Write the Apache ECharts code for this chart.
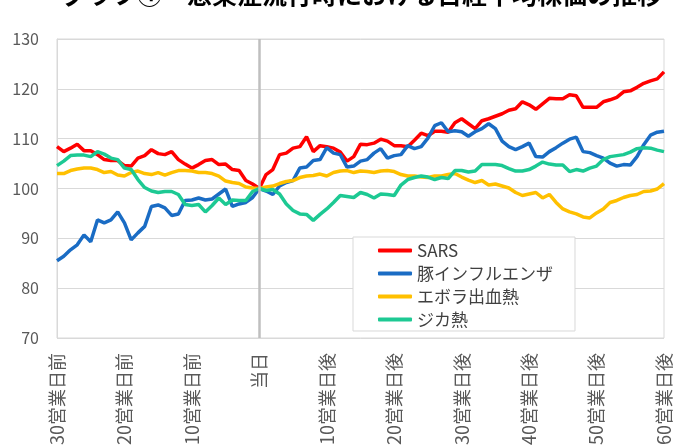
<!DOCTYPE html>
<html>
<head>
<meta charset="utf-8">
<script src="https://cdn.jsdelivr.net/npm/echarts@6/dist/echarts.min.js"></script>
<style>
  html, body { margin: 0; padding: 0; background: #fff; }
  #chart { width: 673px; height: 448px; }
</style>
</head>
<body>
<div id="chart"></div>
<script>
// business days relative to the event day (-30 .. +60)
const dayOffsets = []
for (let d = -30; d <= 60; d++) dayOffsets.push(d)
const categories = dayOffsets.map((d) => (d < 0 ? `${-d}営業日前` : d === 0 ? '当日' : `${d}営業日後`))

const seriesNames = ['SARS', '豚インフルエンザ', 'エボラ出血熱', 'ジカ熱']

const sars = [
  108.4, 107.4, 108.1, 108.9, 107.6, 107.6, 106.8, 105.8, 105.6, 105.6,
  104.6, 104.5, 106.1, 106.6, 107.8, 107.0, 106.8, 107.4, 105.8, 104.9,
  104.1, 104.8, 105.6, 105.8, 104.8, 104.9, 103.8, 103.6, 101.6, 100.9,
  100.0,
  102.8, 103.8, 106.8, 107.1, 108.1, 108.4, 110.4, 107.4, 108.6, 108.4,
  108.1, 107.3, 105.5, 106.4, 108.9, 108.8, 109.1, 109.9, 109.5, 108.6,
  108.6, 108.4, 109.7, 111.1, 110.6, 111.5, 111.5, 111.3, 113.2, 114.0,
  113.0, 112.0, 113.6, 114.0, 114.5, 115.0, 115.7, 116.0, 117.4, 116.8,
  115.9, 117.0, 118.1, 118.0, 118.0, 118.8, 118.6, 116.3, 116.3, 116.3,
  117.4, 117.8, 118.3, 119.4, 119.6, 120.3, 121.1, 121.6, 122.0, 123.4
]

const swineFlu = [
  85.5, 86.4, 87.7, 88.7, 90.7, 89.3, 93.7, 93.1, 93.7, 95.3,
  93.1, 89.7, 91.1, 92.4, 96.4, 96.7, 96.1, 94.6, 94.9, 97.6,
  97.7, 98.1, 97.7, 97.9, 98.9, 99.9, 96.4, 96.9, 97.2, 98.2,
  100.0,
  99.5, 98.8, 100.5, 101.2, 101.6, 104.1, 104.3, 105.6, 105.8, 108.2,
  107.1, 106.8, 104.3, 104.5, 105.5, 105.8, 107.1, 108.0, 106.1, 106.6,
  106.8, 108.6, 108.0, 108.4, 110.1, 112.6, 113.2, 111.4, 111.6, 111.4,
  110.5, 111.4, 112.0, 113.0, 112.0, 109.5, 108.4, 107.8, 108.4, 109.1,
  106.4, 106.3, 107.4, 108.2, 109.1, 109.9, 110.3, 107.4, 107.2, 106.6,
  106.1, 105.1, 104.5, 104.8, 104.7, 106.4, 108.8, 110.7, 111.3, 111.5
]

const ebola = [
  103.0, 103.0, 103.6, 103.9, 104.1, 104.1, 103.8, 103.2, 103.4, 102.7,
  102.5, 103.2, 103.5, 103.0, 102.8, 103.2, 102.7, 103.2, 103.6, 103.6,
  103.5, 103.2, 103.2, 103.0, 102.5, 101.5, 101.2, 101.0, 100.3, 100.1,
  100.0,
  100.3, 100.5, 101.0, 101.4, 101.6, 102.2, 102.5, 102.6, 102.9, 102.5,
  103.2, 103.5, 103.6, 103.2, 103.5, 103.4, 103.2, 103.5, 103.6, 103.4,
  102.8, 102.5, 102.5, 102.3, 102.2, 102.5, 102.5, 102.8, 103.0, 102.3,
  101.7, 101.2, 101.6, 100.7, 100.9, 100.5, 100.1, 99.2, 98.6, 98.9,
  99.2, 98.1, 98.8, 97.2, 95.9, 95.3, 94.9, 94.3, 94.1, 95.1,
  95.9, 97.2, 97.6, 98.2, 98.6, 98.8, 99.4, 99.5, 99.9, 101.0
]

const zika = [
  104.6, 105.5, 106.6, 106.7, 106.7, 106.4, 107.4, 106.9, 106.1, 105.8,
  104.1, 103.8, 101.8, 100.2, 99.5, 99.2, 99.4, 99.4, 98.8, 96.8,
  96.6, 96.8, 95.3, 96.6, 98.1, 96.8, 97.7, 97.6, 97.6, 99.4,
  100.0,
  99.6, 99.8, 98.9, 96.9, 95.6, 94.9, 94.8, 93.6, 94.8, 95.9,
  97.2, 98.6, 98.4, 98.2, 99.2, 98.8, 98.1, 98.9, 98.8, 98.6,
  100.7, 101.8, 102.2, 102.5, 102.3, 101.8, 102.2, 102.0, 103.6, 103.6,
  103.3, 103.5, 104.8, 104.8, 104.8, 104.6, 104.0, 103.5, 103.5, 103.8,
  104.5, 105.3, 104.9, 104.7, 104.7, 103.4, 103.8, 103.5, 104.1, 104.5,
  105.8, 106.4, 106.6, 106.8, 107.3, 108.0, 108.2, 108.1, 107.7, 107.4
]

const seriesColors = ['#FF0000', '#1A6CC4', '#FFC000', '#1DC993']
const seriesData = [sars, swineFlu, ebola, zika]

const yTicks = { min: 70, max: 130, interval: 10 }
const eventDay = '当日'

const chart = echarts.init(document.getElementById('chart'))

const font = '"Noto Sans CJK JP", "Noto Sans", sans-serif'

const option = {
  animation: false,
  backgroundColor: '#fff',
  title: {
    text: 'グラフ④　感染症流行時における日経平均株価の推移',
    left: 62,
    top: -18,
    padding: 0,
    textStyle: { fontFamily: font, fontSize: 25, fontWeight: 'bold', color: '#000' }
  },
  legend: {
    data: seriesNames,
    orient: 'vertical',
    left: 353,
    top: 237,
    padding: [5, 22, 3, 25],
    itemGap: 6,
    itemWidth: 34,
    itemHeight: 4,
    icon: 'roundRect',
    backgroundColor: '#fff',
    borderColor: '#d9d9d9',
    borderWidth: 1,
    textStyle: { fontFamily: font, fontSize: 17, color: '#404040' }
  },
  grid: {
    left: 57,
    right: 5,
    top: 39,
    bottom: 104,
    show: true,
    borderColor: '#d9d9d9',
    borderWidth: 1
  },
  xAxis: {
    type: 'category',
    data: categories,
    boundaryGap: false,
    axisLine: { show: false },
    axisTick: { show: false },
    axisLabel: {
      interval: 9,
      rotate: 90,
      margin: 15,
      fontFamily: font,
      fontSize: 18,
      color: '#595959'
    }
  },
  yAxis: {
    type: 'value',
    min: yTicks.min,
    max: yTicks.max,
    interval: yTicks.interval,
    axisLine: { show: true, lineStyle: { color: '#d9d9d9' } },
    axisTick: { show: false },
    splitLine: { lineStyle: { color: '#d9d9d9', width: 1 } },
    axisLabel: { margin: 18, fontFamily: font, fontSize: 16, color: '#595959' }
  },
  series: seriesNames.map((name, i) => ({
    name,
    type: 'line',
    data: seriesData[i],
    symbol: 'none',
    lineStyle: { color: seriesColors[i], width: 3.5 },
    itemStyle: { color: seriesColors[i] },
    markLine: i === 0 ? {
      silent: true,
      symbol: 'none',
      label: { show: false },
      lineStyle: { color: '#bfbfbf', width: 2.5, type: 'solid' },
      data: [{ xAxis: eventDay }]
    } : undefined
  }))
}

chart.setOption(option)
</script>
</body>
</html>
